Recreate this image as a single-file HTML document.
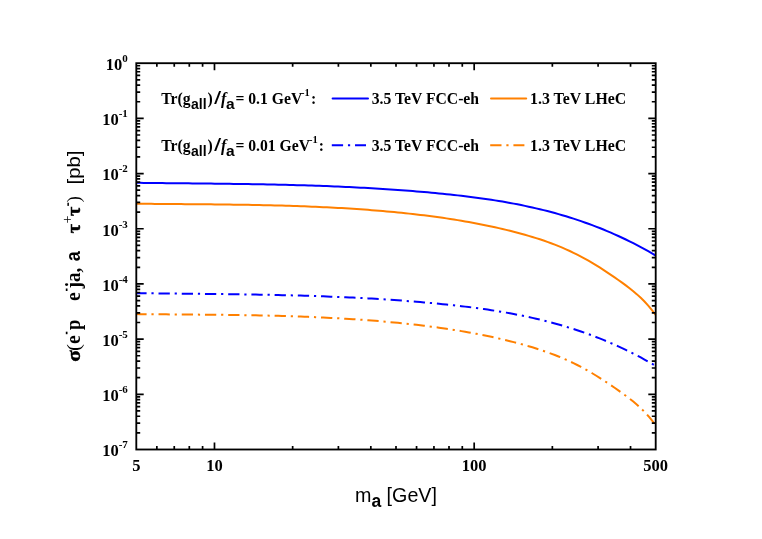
<!DOCTYPE html>
<html><head><meta charset="utf-8"><title>chart</title>
<style>
html,body{margin:0;padding:0;background:#fff;}
body{width:762px;height:539px;overflow:hidden;}
svg{display:block;will-change:transform;}
text{fill:#000;}
.tl{font-family:"Liberation Serif",serif;font-weight:bold;font-size:16.5px;}
.sup{font-size:11px;}
.lg{font-family:"Liberation Serif",serif;font-weight:bold;font-size:15.7px;}
.sb{font-family:"Liberation Sans",sans-serif;font-weight:bold;}
.ax{font-family:"Liberation Sans",sans-serif;font-size:19.7px;}
.ys{font-family:"Liberation Serif",serif;font-weight:bold;font-size:19px;}
</style></head><body>
<svg width="762" height="539" viewBox="0 0 762 539">
<rect x="0" y="0" width="762" height="539" fill="#fff"/>
<defs><clipPath id="cp"><rect x="136.3" y="63.2" width="519.4000000000001" height="386.3"/></clipPath></defs>
<g clip-path="url(#cp)" fill="none" stroke-width="2">
<path d="M136.30,182.79 L140.04,182.83 L143.77,182.88 L147.51,182.92 L151.25,182.97 L154.98,183.01 L158.72,183.05 L162.46,183.09 L166.19,183.13 L169.93,183.17 L173.67,183.21 L177.40,183.25 L181.14,183.28 L184.88,183.32 L188.61,183.36 L192.35,183.40 L196.09,183.44 L199.82,183.48 L203.56,183.52 L207.30,183.56 L211.03,183.60 L214.77,183.64 L218.51,183.69 L222.24,183.73 L225.98,183.78 L229.72,183.83 L233.45,183.88 L237.19,183.93 L240.93,183.98 L244.66,184.04 L248.40,184.10 L252.14,184.16 L255.87,184.22 L259.61,184.29 L263.35,184.36 L267.08,184.43 L270.82,184.51 L274.56,184.59 L278.29,184.67 L282.03,184.75 L285.77,184.84 L289.50,184.94 L293.24,185.03 L296.98,185.14 L300.71,185.24 L304.45,185.35 L308.19,185.47 L311.92,185.59 L315.66,185.71 L319.40,185.84 L323.13,185.97 L326.87,186.11 L330.61,186.26 L334.34,186.41 L338.08,186.56 L341.82,186.73 L345.55,186.89 L349.29,187.07 L353.03,187.25 L356.76,187.43 L360.50,187.63 L364.24,187.83 L367.97,188.03 L371.71,188.24 L375.45,188.46 L379.18,188.69 L382.92,188.93 L386.66,189.17 L390.39,189.42 L394.13,189.67 L397.87,189.94 L401.61,190.21 L405.34,190.49 L409.08,190.78 L412.82,191.08 L416.55,191.39 L420.29,191.70 L424.03,192.03 L427.76,192.36 L431.50,192.70 L435.24,193.05 L438.97,193.41 L442.71,193.78 L446.45,194.17 L450.18,194.56 L453.92,194.96 L457.66,195.37 L461.39,195.80 L465.13,196.25 L468.87,196.70 L472.60,197.18 L476.34,197.67 L480.08,198.17 L483.81,198.70 L487.55,199.24 L491.29,199.80 L495.02,200.38 L498.76,200.99 L502.50,201.61 L506.23,202.26 L509.97,202.93 L513.71,203.63 L517.44,204.35 L521.18,205.09 L524.92,205.86 L528.65,206.66 L532.39,207.49 L536.13,208.35 L539.86,209.23 L543.60,210.15 L547.34,211.09 L551.07,212.07 L554.81,213.08 L558.55,214.13 L562.28,215.21 L566.02,216.32 L569.76,217.47 L573.49,218.66 L577.23,219.88 L580.97,221.14 L584.70,222.44 L588.44,223.78 L592.18,225.16 L595.91,226.58 L599.65,228.04 L603.39,229.55 L607.12,231.10 L610.86,232.69 L614.60,234.33 L618.33,236.01 L622.07,237.74 L625.81,239.52 L629.54,241.35 L633.28,243.22 L637.02,245.15 L640.75,247.12 L644.49,249.15 L648.23,251.22 L651.96,253.36 L655.70,255.54" stroke="#0000ff"/>
<path d="M136.30,203.72 L140.04,203.76 L143.77,203.80 L147.51,203.84 L151.25,203.87 L154.98,203.90 L158.72,203.94 L162.46,203.97 L166.19,204.00 L169.93,204.03 L173.67,204.06 L177.40,204.08 L181.14,204.11 L184.88,204.14 L188.61,204.17 L192.35,204.20 L196.09,204.23 L199.82,204.26 L203.56,204.30 L207.30,204.33 L211.03,204.37 L214.77,204.41 L218.51,204.44 L222.24,204.49 L225.98,204.53 L229.72,204.58 L233.45,204.63 L237.19,204.68 L240.93,204.73 L244.66,204.79 L248.40,204.86 L252.14,204.92 L255.87,204.99 L259.61,205.06 L263.35,205.14 L267.08,205.23 L270.82,205.31 L274.56,205.41 L278.29,205.50 L282.03,205.61 L285.77,205.71 L289.50,205.83 L293.24,205.95 L296.98,206.07 L300.71,206.20 L304.45,206.34 L308.19,206.49 L311.92,206.64 L315.66,206.80 L319.40,206.96 L323.13,207.14 L326.87,207.32 L330.61,207.51 L334.34,207.70 L338.08,207.91 L341.82,208.12 L345.55,208.35 L349.29,208.58 L353.03,208.82 L356.76,209.07 L360.50,209.32 L364.24,209.59 L367.97,209.87 L371.71,210.16 L375.45,210.46 L379.18,210.77 L382.92,211.08 L386.66,211.41 L390.39,211.75 L394.13,212.11 L397.87,212.47 L401.61,212.84 L405.34,213.23 L409.08,213.63 L412.82,214.04 L416.55,214.46 L420.29,214.90 L424.03,215.35 L427.76,215.82 L431.50,216.30 L435.24,216.79 L438.97,217.31 L442.71,217.84 L446.45,218.38 L450.18,218.95 L453.92,219.53 L457.66,220.13 L461.39,220.75 L465.13,221.39 L468.87,222.05 L472.60,222.73 L476.34,223.43 L480.08,224.16 L483.81,224.91 L487.55,225.68 L491.29,226.47 L495.02,227.29 L498.76,228.13 L502.50,229.00 L506.23,229.89 L509.97,230.81 L513.71,231.75 L517.44,232.73 L521.18,233.73 L524.92,234.77 L528.65,235.84 L532.39,236.96 L536.13,238.11 L539.86,239.32 L543.60,240.57 L547.34,241.88 L551.07,243.24 L554.81,244.66 L558.55,246.15 L562.28,247.70 L566.02,249.32 L569.76,251.02 L573.49,252.79 L577.23,254.63 L580.97,256.57 L584.70,258.58 L588.44,260.69 L592.18,262.87 L595.91,265.13 L599.65,267.47 L603.39,269.87 L607.12,272.33 L610.86,274.85 L614.60,277.41 L618.33,280.03 L622.07,282.68 L625.81,285.40 L629.54,288.22 L633.28,291.20 L637.02,294.38 L640.75,297.81 L644.49,301.53 L648.23,305.58 L651.96,310.02 L655.70,314.89" stroke="#ff8000"/>
<path d="M136.30,293.16 L140.04,293.21 L143.77,293.25 L147.51,293.30 L151.25,293.34 L154.98,293.38 L158.72,293.42 L162.46,293.46 L166.19,293.50 L169.93,293.54 L173.67,293.58 L177.40,293.62 L181.14,293.66 L184.88,293.69 L188.61,293.73 L192.35,293.77 L196.09,293.81 L199.82,293.85 L203.56,293.89 L207.30,293.93 L211.03,293.97 L214.77,294.01 L218.51,294.06 L222.24,294.10 L225.98,294.15 L229.72,294.20 L233.45,294.25 L237.19,294.30 L240.93,294.35 L244.66,294.41 L248.40,294.47 L252.14,294.53 L255.87,294.59 L259.61,294.66 L263.35,294.73 L267.08,294.80 L270.82,294.88 L274.56,294.96 L278.29,295.04 L282.03,295.13 L285.77,295.21 L289.50,295.31 L293.24,295.41 L296.98,295.51 L300.71,295.61 L304.45,295.72 L308.19,295.84 L311.92,295.96 L315.66,296.08 L319.40,296.21 L323.13,296.34 L326.87,296.48 L330.61,296.63 L334.34,296.78 L338.08,296.93 L341.82,297.10 L345.55,297.26 L349.29,297.44 L353.03,297.62 L356.76,297.80 L360.50,298.00 L364.24,298.20 L367.97,298.40 L371.71,298.62 L375.45,298.84 L379.18,299.06 L382.92,299.30 L386.66,299.54 L390.39,299.79 L394.13,300.05 L397.87,300.31 L401.61,300.58 L405.34,300.87 L409.08,301.16 L412.82,301.45 L416.55,301.76 L420.29,302.07 L424.03,302.40 L427.76,302.73 L431.50,303.07 L435.24,303.43 L438.97,303.79 L442.71,304.16 L446.45,304.54 L450.18,304.93 L453.92,305.33 L457.66,305.75 L461.39,306.17 L465.13,306.62 L468.87,307.07 L472.60,307.55 L476.34,308.04 L480.08,308.54 L483.81,309.07 L487.55,309.61 L491.29,310.17 L495.02,310.76 L498.76,311.36 L502.50,311.98 L506.23,312.63 L509.97,313.30 L513.71,314.00 L517.44,314.72 L521.18,315.46 L524.92,316.24 L528.65,317.03 L532.39,317.86 L536.13,318.72 L539.86,319.60 L543.60,320.52 L547.34,321.47 L551.07,322.44 L554.81,323.45 L558.55,324.50 L562.28,325.58 L566.02,326.69 L569.76,327.84 L573.49,329.03 L577.23,330.25 L580.97,331.51 L584.70,332.81 L588.44,334.15 L592.18,335.53 L595.91,336.95 L599.65,338.41 L603.39,339.92 L607.12,341.47 L610.86,343.06 L614.60,344.70 L618.33,346.38 L622.07,348.11 L625.81,349.89 L629.54,351.72 L633.28,353.59 L637.02,355.52 L640.75,357.49 L644.49,359.52 L648.23,361.60 L651.96,363.73 L655.70,365.91" stroke="#0000ff" stroke-dasharray="11.3 4.85 2.2 4.87" stroke-dashoffset="1"/>
<path d="M136.30,314.09 L140.04,314.13 L143.77,314.17 L147.51,314.21 L151.25,314.24 L154.98,314.27 L158.72,314.31 L162.46,314.34 L166.19,314.37 L169.93,314.40 L173.67,314.43 L177.40,314.46 L181.14,314.48 L184.88,314.51 L188.61,314.54 L192.35,314.57 L196.09,314.60 L199.82,314.64 L203.56,314.67 L207.30,314.70 L211.03,314.74 L214.77,314.78 L218.51,314.82 L222.24,314.86 L225.98,314.90 L229.72,314.95 L233.45,315.00 L237.19,315.05 L240.93,315.11 L244.66,315.16 L248.40,315.23 L252.14,315.29 L255.87,315.36 L259.61,315.44 L263.35,315.51 L267.08,315.60 L270.82,315.68 L274.56,315.78 L278.29,315.87 L282.03,315.98 L285.77,316.08 L289.50,316.20 L293.24,316.32 L296.98,316.44 L300.71,316.58 L304.45,316.71 L308.19,316.86 L311.92,317.01 L315.66,317.17 L319.40,317.34 L323.13,317.51 L326.87,317.69 L330.61,317.88 L334.34,318.08 L338.08,318.28 L341.82,318.50 L345.55,318.72 L349.29,318.95 L353.03,319.19 L356.76,319.44 L360.50,319.70 L364.24,319.96 L367.97,320.24 L371.71,320.53 L375.45,320.83 L379.18,321.14 L382.92,321.46 L386.66,321.79 L390.39,322.13 L394.13,322.48 L397.87,322.84 L401.61,323.22 L405.34,323.60 L409.08,324.00 L412.82,324.41 L416.55,324.84 L420.29,325.27 L424.03,325.72 L427.76,326.19 L431.50,326.67 L435.24,327.17 L438.97,327.68 L442.71,328.21 L446.45,328.75 L450.18,329.32 L453.92,329.90 L457.66,330.50 L461.39,331.12 L465.13,331.76 L468.87,332.42 L472.60,333.10 L476.34,333.81 L480.08,334.53 L483.81,335.28 L487.55,336.05 L491.29,336.84 L495.02,337.66 L498.76,338.50 L502.50,339.37 L506.23,340.26 L509.97,341.18 L513.71,342.13 L517.44,343.10 L521.18,344.10 L524.92,345.14 L528.65,346.21 L532.39,347.33 L536.13,348.48 L539.86,349.69 L543.60,350.94 L547.34,352.25 L551.07,353.61 L554.81,355.03 L558.55,356.52 L562.28,358.07 L566.02,359.69 L569.76,361.39 L573.49,363.16 L577.23,365.01 L580.97,366.94 L584.70,368.95 L588.44,371.06 L592.18,373.24 L595.91,375.51 L599.65,377.84 L603.39,380.24 L607.12,382.70 L610.86,385.22 L614.60,387.79 L618.33,390.40 L622.07,393.05 L625.81,395.77 L629.54,398.59 L633.28,401.57 L637.02,404.75 L640.75,408.18 L644.49,411.90 L648.23,415.95 L651.96,420.39 L655.70,425.26" stroke="#ff8000" stroke-dasharray="11.3 4.85 2.2 4.87" stroke-dashoffset="1"/>
</g>
<path d="M136.30,101.77 h3.90 M655.70,101.77 h-3.90 M136.30,92.06 h3.90 M655.70,92.06 h-3.90 M136.30,85.16 h3.90 M655.70,85.16 h-3.90 M136.30,79.81 h3.90 M655.70,79.81 h-3.90 M136.30,75.44 h3.90 M655.70,75.44 h-3.90 M136.30,71.75 h3.90 M655.70,71.75 h-3.90 M136.30,68.55 h3.90 M655.70,68.55 h-3.90 M136.30,65.73 h3.90 M655.70,65.73 h-3.90 M136.30,118.39 h7.40 M655.70,118.39 h-7.40 M136.30,156.96 h3.90 M655.70,156.96 h-3.90 M136.30,147.24 h3.90 M655.70,147.24 h-3.90 M136.30,140.35 h3.90 M655.70,140.35 h-3.90 M136.30,135.00 h3.90 M655.70,135.00 h-3.90 M136.30,130.63 h3.90 M655.70,130.63 h-3.90 M136.30,126.93 h3.90 M655.70,126.93 h-3.90 M136.30,123.73 h3.90 M655.70,123.73 h-3.90 M136.30,120.91 h3.90 M655.70,120.91 h-3.90 M136.30,173.57 h7.40 M655.70,173.57 h-7.40 M136.30,212.14 h3.90 M655.70,212.14 h-3.90 M136.30,202.43 h3.90 M655.70,202.43 h-3.90 M136.30,195.53 h3.90 M655.70,195.53 h-3.90 M136.30,190.18 h3.90 M655.70,190.18 h-3.90 M136.30,185.81 h3.90 M655.70,185.81 h-3.90 M136.30,182.12 h3.90 M655.70,182.12 h-3.90 M136.30,178.92 h3.90 M655.70,178.92 h-3.90 M136.30,176.10 h3.90 M655.70,176.10 h-3.90 M136.30,228.76 h7.40 M655.70,228.76 h-7.40 M136.30,267.33 h3.90 M655.70,267.33 h-3.90 M136.30,257.61 h3.90 M655.70,257.61 h-3.90 M136.30,250.72 h3.90 M655.70,250.72 h-3.90 M136.30,245.37 h3.90 M655.70,245.37 h-3.90 M136.30,241.00 h3.90 M655.70,241.00 h-3.90 M136.30,237.31 h3.90 M655.70,237.31 h-3.90 M136.30,234.11 h3.90 M655.70,234.11 h-3.90 M136.30,231.28 h3.90 M655.70,231.28 h-3.90 M136.30,283.94 h7.40 M655.70,283.94 h-7.40 M136.30,322.52 h3.90 M655.70,322.52 h-3.90 M136.30,312.80 h3.90 M655.70,312.80 h-3.90 M136.30,305.90 h3.90 M655.70,305.90 h-3.90 M136.30,300.56 h3.90 M655.70,300.56 h-3.90 M136.30,296.19 h3.90 M655.70,296.19 h-3.90 M136.30,292.49 h3.90 M655.70,292.49 h-3.90 M136.30,289.29 h3.90 M655.70,289.29 h-3.90 M136.30,286.47 h3.90 M655.70,286.47 h-3.90 M136.30,339.13 h7.40 M655.70,339.13 h-7.40 M136.30,377.70 h3.90 M655.70,377.70 h-3.90 M136.30,367.98 h3.90 M655.70,367.98 h-3.90 M136.30,361.09 h3.90 M655.70,361.09 h-3.90 M136.30,355.74 h3.90 M655.70,355.74 h-3.90 M136.30,351.37 h3.90 M655.70,351.37 h-3.90 M136.30,347.68 h3.90 M655.70,347.68 h-3.90 M136.30,344.48 h3.90 M655.70,344.48 h-3.90 M136.30,341.65 h3.90 M655.70,341.65 h-3.90 M136.30,394.31 h7.40 M655.70,394.31 h-7.40 M136.30,432.89 h3.90 M655.70,432.89 h-3.90 M136.30,423.17 h3.90 M655.70,423.17 h-3.90 M136.30,416.27 h3.90 M655.70,416.27 h-3.90 M136.30,410.93 h3.90 M655.70,410.93 h-3.90 M136.30,406.56 h3.90 M655.70,406.56 h-3.90 M136.30,402.86 h3.90 M655.70,402.86 h-3.90 M136.30,399.66 h3.90 M655.70,399.66 h-3.90 M136.30,396.84 h3.90 M655.70,396.84 h-3.90 M214.48,449.50 v-7.00 M214.48,63.20 v7.00 M474.18,449.50 v-7.00 M474.18,63.20 v7.00 M156.86,449.50 v-3.60 M156.86,63.20 v3.60 M174.25,449.50 v-3.60 M174.25,63.20 v3.60 M189.31,449.50 v-3.60 M189.31,63.20 v3.60 M202.59,449.50 v-3.60 M202.59,63.20 v3.60 M292.65,449.50 v-3.60 M292.65,63.20 v3.60 M338.39,449.50 v-3.60 M338.39,63.20 v3.60 M370.83,449.50 v-3.60 M370.83,63.20 v3.60 M396.00,449.50 v-3.60 M396.00,63.20 v3.60 M416.56,449.50 v-3.60 M416.56,63.20 v3.60 M433.95,449.50 v-3.60 M433.95,63.20 v3.60 M449.01,449.50 v-3.60 M449.01,63.20 v3.60 M462.29,449.50 v-3.60 M462.29,63.20 v3.60 M552.35,449.50 v-3.60 M552.35,63.20 v3.60 M598.09,449.50 v-3.60 M598.09,63.20 v3.60 M630.53,449.50 v-3.60 M630.53,63.20 v3.60" stroke="#000" stroke-width="1.7" fill="none"/>
<rect x="136.3" y="63.2" width="519.4000000000001" height="386.3" fill="none" stroke="#000" stroke-width="1.85"/>
<text x="127.8" y="70.00" text-anchor="end" class="tl">10<tspan class="sup" dy="-8">0</tspan></text>
<text x="127.8" y="125.19" text-anchor="end" class="tl">10<tspan class="sup" dy="-8">-1</tspan></text>
<text x="127.8" y="180.37" text-anchor="end" class="tl">10<tspan class="sup" dy="-8">-2</tspan></text>
<text x="127.8" y="235.56" text-anchor="end" class="tl">10<tspan class="sup" dy="-8">-3</tspan></text>
<text x="127.8" y="290.74" text-anchor="end" class="tl">10<tspan class="sup" dy="-8">-4</tspan></text>
<text x="127.8" y="345.93" text-anchor="end" class="tl">10<tspan class="sup" dy="-8">-5</tspan></text>
<text x="127.8" y="401.11" text-anchor="end" class="tl">10<tspan class="sup" dy="-8">-6</tspan></text>
<text x="127.8" y="456.30" text-anchor="end" class="tl">10<tspan class="sup" dy="-8">-7</tspan></text>
<text x="136.30" y="470.9" text-anchor="middle" class="tl">5</text>
<text x="214.48" y="470.9" text-anchor="middle" class="tl">10</text>
<text x="474.18" y="470.9" text-anchor="middle" class="tl">100</text>
<text x="655.70" y="470.9" text-anchor="middle" class="tl">500</text>

<!-- legend -->
<g fill="none" stroke-width="2">
<path d="M332.6,98.4 H368" stroke="#0000ff" stroke-linecap="round"/>
<path d="M491,98.4 H526.2" stroke="#ff8000" stroke-linecap="round"/>
<path d="M331.8,145.2 H366" stroke="#0000ff" stroke-dasharray="11.3 4.85 2.2 4.87"/>
<path d="M490.2,145.2 H524.4" stroke="#ff8000" stroke-dasharray="11.3 4.85 2.2 4.87"/>
</g>
<text x="161.2" y="103.6" class="lg">Tr(g<tspan class="sb" font-size="14" dy="5" dx="0.5">all</tspan><tspan dy="-5" dx="0.8">)</tspan><tspan class="sb" font-style="italic" font-size="17.5" dx="2.2">/</tspan><tspan font-style="italic" font-size="16" dx="1.2">f</tspan><tspan class="sb" font-size="15.5" dy="5" dx="-0.3">a</tspan><tspan dy="-5" dx="0.8" font-size="15.7">= 0.1 GeV</tspan><tspan font-size="10.5" dy="-7.5" dx="-1.2">-1</tspan><tspan dy="7.5" dx="1.2">:</tspan></text>
<text x="161.2" y="150.7" class="lg">Tr(g<tspan class="sb" font-size="14" dy="5" dx="0.5">all</tspan><tspan dy="-5" dx="0.8">)</tspan><tspan class="sb" font-style="italic" font-size="17.5" dx="2.2">/</tspan><tspan font-style="italic" font-size="16" dx="1.2">f</tspan><tspan class="sb" font-size="15.5" dy="5" dx="-0.3">a</tspan><tspan dy="-5" dx="0.8" font-size="15.7">= 0.01 GeV</tspan><tspan font-size="10.5" dy="-7.5" dx="-1.2">-1</tspan><tspan dy="7.5" dx="1.2">:</tspan></text>
<text x="371.7" y="103.6" class="lg">3.5 TeV FCC-eh</text>
<text x="371.7" y="150.7" class="lg">3.5 TeV FCC-eh</text>
<text x="530.1" y="103.6" class="lg" style="font-size:15.85px">1.3 TeV LHeC</text>
<text x="530.1" y="150.7" class="lg" style="font-size:15.85px">1.3 TeV LHeC</text>
<!-- x title -->
<text x="355" y="501.5" class="ax">m<tspan class="sb" font-size="17.5" dy="5">a</tspan><tspan dy="-5"> [GeV]</tspan></text>
<!-- y title -->
<g transform="translate(79.9,361.6) rotate(-90)">
<text transform="translate(-0.24,0) scale(1.1,1)" class="ys" style="font-size:19.5px" stroke="#000" stroke-width="0.4">σ</text>
<text transform="translate(10.6,0) scale(1.16,1)" font-family="Liberation Serif" font-size="18">(</text>
<text transform="translate(17.7,0) scale(0.93,1)" class="ys" style="font-size:21px">e</text>
<rect x="27.4" y="-14.1" width="2.5" height="1.7" fill="#000"/>
<text transform="translate(31.5,0) scale(0.88,1)" class="ys" style="font-size:21px">p</text>
<text transform="translate(60.6,0) scale(0.93,1)" class="ys" style="font-size:21px">e</text>
<rect x="70.6" y="-14.1" width="2.5" height="1.7" fill="#000"/>
<text transform="translate(73.3,0) scale(0.9,1)" class="ys" style="font-size:21px">ja,</text>
<text transform="translate(100.3,0) scale(0.88,1)" class="sb" font-size="20.5">a</text>
<text transform="translate(128.4,0) scale(1.05,1)" class="ys" stroke="#000" stroke-width="0.5">τ</text>
<text x="138.2" y="-7.8" class="ys" style="font-size:14px;font-weight:normal">+</text>
<text transform="translate(145.5,0) scale(1.05,1)" class="ys" stroke="#000" stroke-width="0.5">τ</text>
<rect x="155.7" y="-12.5" width="3.2" height="1.5" fill="#000"/>
<text x="159.3" y="0" font-family="Liberation Serif" font-size="18">)</text>
<text transform="translate(177.2,0) scale(1.06,1)" class="ax" style="font-size:19.2px">[pb]</text>
</g>
</svg>
</body></html>
